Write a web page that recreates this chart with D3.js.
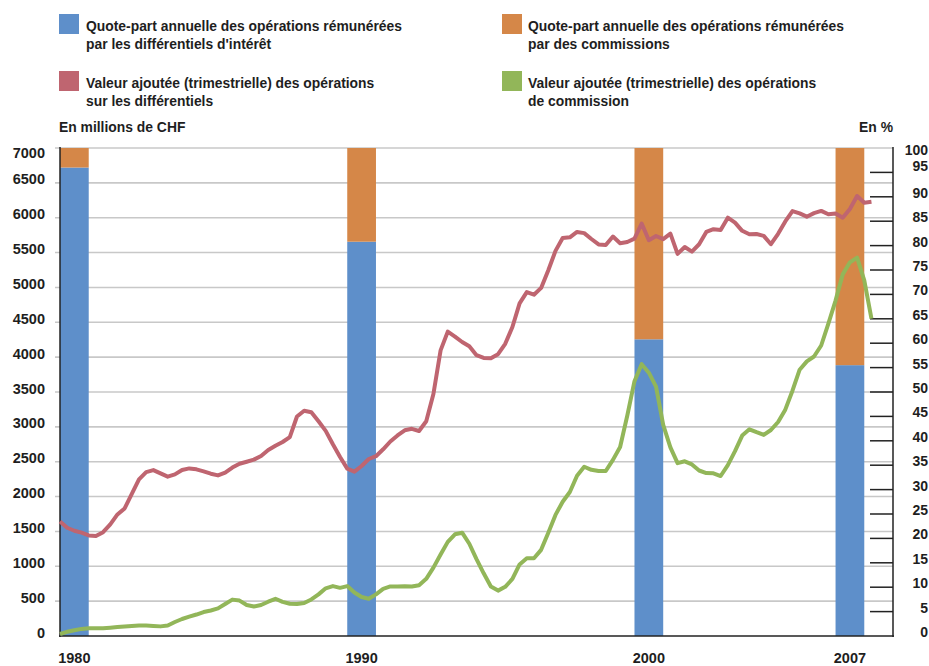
<!DOCTYPE html>
<html><head><meta charset="utf-8">
<script src="https://cdn.jsdelivr.net/npm/d3@7"></script>
<style>
body{margin:0;background:#fff;}
svg text{font-weight:bold;fill:#1e1e1e;}
</style></head><body>
<svg id="chart" width="929" height="666"></svg>
<script>
// Quarterly series, first value = 1980 Q1 (millions CHF)
const startYear = 1980;
const interestValueAdded = [1642,1553,1510,1482,1442,1434,1489,1601,1744,1830,
2038,2246,2351,2380,2332,2286,2318,2381,2404,2391,
2362,2328,2304,2344,2416,2471,2500,2530,2582,2668,
2728,2783,2854,3149,3232,3210,3080,2943,2750,2568,
2401,2358,2438,2539,2579,2678,2790,2877,2951,2972,
2941,3081,3471,4097,4366,4295,4217,4155,4028,3988,
3983,4042,4191,4432,4772,4933,4896,4993,5247,5524,
5710,5719,5796,5779,5695,5617,5609,5730,5633,5652,
5700,5917,5677,5738,5692,5772,5482,5580,5514,5619,
5796,5835,5824,6000,5930,5812,5762,5766,5739,5620,
5769,5947,6095,6062,6015,6066,6098,6049,6059,5999,
6125,6311,6215,6230];
const commissionValueAdded = [29,60,83,102,110,110,110,118,128,136,
145,152,149,145,138,151,201,244,277,308,
344,366,396,460,522,508,445,423,445,492,
534,489,462,458,473,524,597,684,716,691,
716,623,559,534,597,677,711,710,713,710,
729,820,981,1168,1350,1459,1482,1323,1103,899,
709,651,706,818,1027,1115,1115,1236,1480,1737,
1926,2066,2299,2428,2384,2367,2367,2526,2711,3163,
3655,3899,3777,3576,3028,2705,2479,2506,2461,2374,
2337,2334,2295,2451,2651,2875,2965,2923,2885,2955,
3070,3247,3519,3820,3940,4009,4167,4481,4812,5187,
5360,5428,5101,4551];

// Annual shares (%)
const barYears = [1980, 1990, 2000, 2007];
const interestShare = [96.0, 80.8, 60.8, 55.5];
const commissionShare = [4.0, 19.2, 39.2, 44.5];

const leftTicks = [0,500,1000,1500,2000,2500,3000,3500,4000,4500,5000,5500,6000,6500,7000];
const rightTicks = [0,5,10,15,20,25,30,35,40,45,50,55,60,65,70,75,80,85,90,95,100];
const xLabels = ["1980","1990","2000","2007"];

const legendLabels = [
  ["Quote-part annuelle des opérations rémunérées","par les différentiels d'intérêt"],
  ["Quote-part annuelle des opérations rémunérées","par des commissions"],
  ["Valeur ajoutée (trimestrielle) des opérations","sur les différentiels"],
  ["Valeur ajoutée (trimestrielle) des opérations","de commission"]
];
const leftUnit = "En millions de CHF";
const rightUnit = "En %";

const colors = {interest:"#5e8fca", commission:"#d58748", red:"#bf6570", green:"#92b659"};

const svg = d3.select("#chart");
const x = d3.scaleLinear().domain([1980, 2009]).range([60, 893]);
const y = d3.scaleLinear().domain([0, 7000]).range([636, 148]);
const yp = d3.scaleLinear().domain([0, 100]).range([636, 148]);

// gridlines
svg.append("g").selectAll("line").data(leftTicks.filter(d=>d>0)).join("line")
  .attr("x1",55).attr("x2",893).attr("y1",d=>y(d)).attr("y2",d=>y(d))
  .attr("stroke","#c8c8c8").attr("stroke-width",1.6);

// bars
const bars = svg.append("g");
barYears.forEach((yr,i)=>{
  const x0 = x(yr), w = x(yr+1)-x(yr);
  bars.append("rect").attr("x",x0).attr("width",w)
    .attr("y",yp(interestShare[i])).attr("height",yp(0)-yp(interestShare[i]))
    .attr("fill",colors.interest);
  bars.append("rect").attr("x",x0).attr("width",w)
    .attr("y",yp(interestShare[i]+commissionShare[i])).attr("height",yp(interestShare[i])-yp(interestShare[i]+commissionShare[i]))
    .attr("fill",colors.commission);
});

// axes lines
const ax = svg.append("g").attr("stroke","#222").attr("stroke-width",1.5);
ax.append("line").attr("x1",60).attr("x2",60).attr("y1",147).attr("y2",637);
ax.append("line").attr("x1",893).attr("x2",893).attr("y1",147).attr("y2",637);
ax.append("line").attr("x1",59).attr("x2",894).attr("y1",636).attr("y2",636);
ax.selectAll(".rt").data(rightTicks.filter(d=>d>0&&d<100)).join("line")
  .attr("x1",870).attr("x2",893).attr("y1",d=>yp(d)).attr("y2",d=>yp(d));

// lines
const line = d3.line().x((d,i)=>x(startYear+i/4)).y(d=>y(d));
svg.append("path").datum(interestValueAdded).attr("d",line)
  .attr("fill","none").attr("stroke",colors.red).attr("stroke-width",4).attr("stroke-linejoin","round");
svg.append("path").datum(commissionValueAdded).attr("d",line)
  .attr("fill","none").attr("stroke",colors.green).attr("stroke-width",4).attr("stroke-linejoin","round");

// tick labels
const tickFont = '"Liberation Sans", Arial, sans-serif';
svg.append("g").selectAll("text").data(leftTicks).join("text")
  .attr("x",45).attr("y",d=> d===7000 ? 158 : y(d)+1.5)
  .attr("text-anchor","end").style("font-family",tickFont).style("font-size","14.5px")
  .text(d=>d);
svg.append("g").selectAll("text").data(rightTicks).join("text")
  .attr("x",928).attr("y",d=> d===100 ? 155 : d===95 ? 171 : yp(d)+1)
  .attr("text-anchor","end").style("font-family",tickFont).style("font-size","14px")
  .text(d=>d);
svg.append("g").selectAll("text").data(barYears).join("text")
  .attr("x",(d)=>(x(d)+x(d+1))/2).attr("y",662.5)
  .attr("text-anchor","middle").style("font-family",tickFont).style("font-size","14.5px")
  .text((d,i)=>xLabels[i]);

// legend: bold sans, horizontally condensed to match the reference widths
const legFont = '"Liberation Sans", Arial, sans-serif';
const legSize = 15.5;
const probe = svg.append("text").style("font-family",legFont).style("font-size",legSize+"px").text(legendLabels[0][0]);
const squeeze = 316 / probe.node().getComputedTextLength();
probe.remove();
function legText(xp, yb, s, anchor){
  const t = svg.append("text").attr("x",xp).attr("y",yb).attr("text-anchor",anchor||"start")
    .style("font-family",legFont).style("font-size",legSize+"px").text(s);
  const L = t.node().getComputedTextLength();
  t.attr("textLength", L*squeeze).attr("lengthAdjust","spacingAndGlyphs");
}
const legendPos = [
  {sx:59, sy:14, tx:86, b1:31, b2:49, color:colors.interest},
  {sx:502, sy:14, tx:528, b1:31, b2:49, color:colors.commission},
  {sx:59, sy:71, tx:86, b1:88, b2:106, color:colors.red},
  {sx:502, sy:71, tx:528, b1:88, b2:106, color:colors.green}
];
legendLabels.forEach((lab,i)=>{
  const p = legendPos[i];
  svg.append("rect").attr("x",p.sx).attr("y",p.sy).attr("width",20).attr("height",20).attr("fill",p.color);
  legText(p.tx, p.b1, lab[0]);
  legText(p.tx, p.b2, lab[1]);
});
legText(59, 131.5, leftUnit);
legText(893, 131.5, rightUnit, "end");
</script>
</body></html>
